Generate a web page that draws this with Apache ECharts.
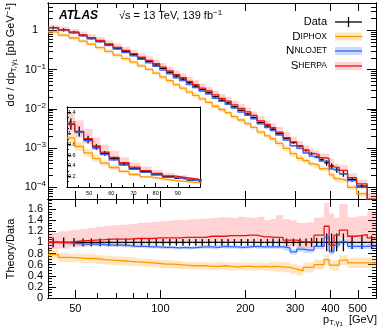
<!DOCTYPE html>
<html>
<head>
<meta charset="utf-8">
<script src="https://cdn.jsdelivr.net/npm/echarts@6/dist/echarts.min.js"></script>
<style>
html, body { margin: 0; padding: 0; background: #fff; }
#chart { width: 390px; height: 331px; }
</style>
</head>
<body>
<div id="chart"></div>
<script>
let chart = echarts.init(document.getElementById('chart'), null, {renderer: 'canvas'});

// bin edges of p_T,gamma1 [GeV]
let edges = [40, 43.5, 47.5, 51.5, 55, 59, 63.5, 68, 73, 78, 83, 88.5, 94, 99.5, 105, 111, 117, 123.5, 130, 137,
    144.5, 152.5, 161, 169.5, 178, 188, 199, 209, 220, 234, 245, 256, 272, 288, 304, 320, 336, 350, 365, 380,
    396, 412, 430, 460, 495, 540, 580];

// measured cross section [pb/GeV] and relative uncertainty
let data_xs = [1.18, 1.04, 0.89, 0.75, 0.63, 0.53, 0.43, 0.35, 0.29, 0.24,
    0.196, 0.162, 0.131, 0.107, 0.086, 0.069, 0.0575, 0.0462, 0.038, 0.031,
    0.0257, 0.0204, 0.0166, 0.0141, 0.0113, 0.0091, 0.0074, 0.0060, 0.00447, 0.00363,
    0.00302, 0.00234, 0.00178, 0.00138, 0.00112, 0.00087, 0.00072, 0.00060, 0.00050, 0.00042,
    0.00035, 0.00028, 0.00022, 0.000158, 0.000107, 0.000046];
let data_err = [0.09, 0.09, 0.08, 0.07, 0.07, 0.07, 0.07, 0.07, 0.07, 0.07,
    0.06, 0.06, 0.06, 0.06, 0.06, 0.06, 0.06, 0.06, 0.06, 0.06,
    0.06, 0.06, 0.06, 0.06, 0.06, 0.06, 0.06, 0.06, 0.06, 0.06,
    0.07, 0.07, 0.07, 0.07, 0.07, 0.07, 0.08, 0.08, 0.08, 0.16,
    0.16, 0.16, 0.16, 0.12, 0.12, 0.12];

// theory / data
let sherpa_ratio = [1.00, 1.00, 1.02, 1.03, 1.04, 1.05, 1.06, 1.06, 1.06, 1.07,
    1.07, 1.07, 1.08, 1.08, 1.08, 1.08, 1.09, 1.09, 1.09, 1.09,
    1.11, 1.11, 1.11, 1.12, 1.12, 1.12, 1.13, 1.13, 1.10, 1.10,
    1.09, 1.09, 1.04, 1.04, 1.01, 1.01, 1.01, 1.13, 1.13, 1.29,
    0.95, 1.13, 1.22, 1.11, 1.14, 1.08];
let sherpa_lo = [0.88, 0.89, 0.91, 0.92, 0.93, 0.94, 0.95, 0.95, 0.95, 0.96,
    0.96, 0.96, 0.97, 0.97, 0.97, 0.97, 0.98, 0.98, 0.98, 0.98,
    0.99, 0.99, 0.99, 1.00, 1.00, 1.00, 1.01, 1.01, 0.98, 0.98,
    0.97, 0.97, 0.93, 0.93, 0.90, 0.90, 0.90, 1.00, 1.00, 1.14,
    0.84, 1.00, 1.07, 0.98, 1.01, 0.95];
let sherpa_hi = [1.17, 1.20, 1.22, 1.24, 1.26, 1.28, 1.30, 1.31, 1.32, 1.33,
    1.35, 1.36, 1.37, 1.38, 1.39, 1.40, 1.40, 1.41, 1.42, 1.42,
    1.43, 1.44, 1.45, 1.45, 1.44, 1.46, 1.45, 1.44, 1.46, 1.40,
    1.42, 1.49, 1.42, 1.40, 1.35, 1.35, 1.36, 1.44, 1.45, 1.71,
    1.52, 1.44, 1.69, 1.45, 1.47, 1.56];
let nnlojet_ratio = [1.00, 0.99, 0.98, 0.97, 0.97, 0.96, 0.95, 0.95, 0.94, 0.93,
    0.93, 0.92, 0.92, 0.91, 0.91, 0.90, 0.91, 0.90, 0.91, 0.92,
    0.92, 0.91, 0.93, 0.92, 0.92, 0.91, 0.92, 0.93, 0.92, 0.92,
    0.92, 0.92, 0.90, 0.83, 0.88, 0.86, 0.86, 0.93, 0.93, 1.10,
    0.83, 0.95, 1.01, 0.93, 0.93, 0.93];
let nnlojet_err = [0.03, 0.03, 0.03, 0.03, 0.03, 0.03, 0.03, 0.03, 0.03, 0.03,
    0.03, 0.03, 0.03, 0.03, 0.03, 0.03, 0.03, 0.03, 0.03, 0.03,
    0.035, 0.035, 0.035, 0.035, 0.035, 0.035, 0.035, 0.035, 0.035, 0.035,
    0.035, 0.035, 0.05, 0.05, 0.05, 0.05, 0.05, 0.05, 0.05, 0.05,
    0.05, 0.05, 0.05, 0.05, 0.05, 0.05];
let diphox_ratio = [0.78, 0.73, 0.72, 0.71, 0.71, 0.69, 0.68, 0.67, 0.66, 0.65,
    0.64, 0.63, 0.62, 0.61, 0.61, 0.60, 0.59, 0.58, 0.58, 0.58,
    0.57, 0.57, 0.58, 0.57, 0.56, 0.57, 0.57, 0.56, 0.57, 0.56,
    0.57, 0.56, 0.55, 0.52, 0.49, 0.55, 0.55, 0.60, 0.60, 0.69,
    0.59, 0.59, 0.68, 0.63, 0.63, 0.63];
let diphox_err = [0.08, 0.08, 0.08, 0.08, 0.08, 0.08, 0.08, 0.08, 0.08, 0.08,
    0.07, 0.07, 0.07, 0.07, 0.07, 0.07, 0.07, 0.07, 0.07, 0.07,
    0.07, 0.07, 0.07, 0.07, 0.07, 0.07, 0.07, 0.07, 0.07, 0.07,
    0.09, 0.09, 0.09, 0.09, 0.09, 0.09, 0.09, 0.09, 0.09, 0.09,
    0.09, 0.09, 0.09, 0.09, 0.09, 0.09];

// ticks
let x_major = [50, 100, 200, 300, 400, 500];
let x_minor = [60, 70, 80, 90];
let y_main_major = [-4, -3, -2, -1, 0];
let ratio_major = [0, 0.2, 0.4, 0.6, 0.8, 1, 1.2, 1.4, 1.6];
let inset_x_major = [50, 60, 70, 80, 90];
let inset_y_major = [0.2, 0.4, 0.6, 0.8, 1, 1.2, 1.4];

let FONT = '"Liberation Sans", Arial, sans-serif';
let L = Math.log10;
let lin = v => v;
let nb = data_xs.length;
let n_inset = 14;

let c_diphox = '#ff9900', b_diphox = 'rgba(255,165,40,0.28)';
let c_nnlo = '#3366ff', b_nnlo = 'rgba(60,110,255,0.25)';
let c_sherpa = '#e8150c', b_sherpa = 'rgba(255,70,70,0.24)';

let y_main_minor = [];
for (let p = -5; p <= 0; p++) {
    for (let k = 2; k <= 9; k++) {
        let v = p + L(k);
        if (v > -4.3 && v < 0.7) y_main_minor.push(v);
    }
}
let ratio_minor = [];
for (let i = 1; i < 36; i++) if (i % 4 !== 0) ratio_minor.push(i * 0.05);
let inset_y_minor = [];
for (let i = 1; i < 15; i++) if (i % 2 === 1) inset_y_minor.push(i * 0.1);
let inset_x_minor = [45, 55, 65, 75, 85, 95];

function axis(o) {
    let a = {
        type: 'value', gridIndex: o.grid, position: o.pos, min: o.min, max: o.max,
        splitLine: {show: false},
        axisLine: {show: true, onZero: false, lineStyle: {color: '#000', width: 1}},
        axisTick: {show: !!o.ticks, inside: true, length: o.len || 5, customValues: o.ticks || [],
            lineStyle: {color: '#000', width: 1}},
        axisLabel: {show: false}
    };
    if (o.labels) {
        a.axisLabel = {show: true, customValues: o.labels, formatter: o.fmt, color: '#000', fontFamily: FONT,
            fontSize: o.fs || 11, margin: o.margin || 4, rich: o.rich, inside: !!o.inside};
    }
    return a;
}

let xlog_fmt = v => String(Math.round(Math.pow(10, v)));
let xmin = L(40), xmax = L(580);

let x_axes = [
    // main
    axis({grid: 0, pos: 'bottom', min: xmin, max: xmax, ticks: x_major.map(L), len: 8}),
    axis({grid: 0, pos: 'bottom', min: xmin, max: xmax, ticks: x_minor.map(L), len: 5}),
    axis({grid: 0, pos: 'top', min: xmin, max: xmax, ticks: x_major.map(L), len: 8}),
    axis({grid: 0, pos: 'top', min: xmin, max: xmax, ticks: x_minor.map(L), len: 5}),
    // ratio
    axis({grid: 1, pos: 'bottom', min: xmin, max: xmax, ticks: x_major.map(L), len: 8,
        labels: x_major.map(L), fmt: xlog_fmt, margin: 5}),
    axis({grid: 1, pos: 'bottom', min: xmin, max: xmax, ticks: x_minor.map(L), len: 5}),
    axis({grid: 1, pos: 'top', min: xmin, max: xmax, ticks: x_major.map(L), len: 8}),
    axis({grid: 1, pos: 'top', min: xmin, max: xmax, ticks: x_minor.map(L), len: 5}),
    // inset
    axis({grid: 2, pos: 'bottom', min: 40, max: 100, ticks: inset_x_major, len: 4,
        labels: inset_x_major, fmt: v => String(v), fs: 5.5, margin: 3}),
    axis({grid: 2, pos: 'bottom', min: 40, max: 100, ticks: inset_x_minor, len: 2}),
    axis({grid: 2, pos: 'top', min: 40, max: 100})
];

let y_axes = [
    // main
    axis({grid: 0, pos: 'left', min: -4.3, max: 0.7, ticks: y_main_major, len: 9,
        labels: y_main_major, margin: 2,
        fmt: v => {
            let p = Math.round(v);
            return p === 0 ? '{one|1}' : '{b|10}{s|\u2212' + Math.abs(p) + '}';
        },
        rich: {
            one: {fontSize: 11, fontFamily: FONT, padding: [0, 8, 0, 0]},
            b: {fontSize: 11, fontFamily: FONT, lineHeight: 14},
            s: {fontSize: 8, fontFamily: FONT, verticalAlign: 'top', lineHeight: 9}
        }}),
    axis({grid: 0, pos: 'left', min: -4.3, max: 0.7, ticks: y_main_minor, len: 5}),
    axis({grid: 0, pos: 'right', min: -4.3, max: 0.7, ticks: y_main_major, len: 9}),
    axis({grid: 0, pos: 'right', min: -4.3, max: 0.7, ticks: y_main_minor, len: 5}),
    // ratio
    axis({grid: 1, pos: 'left', min: 0, max: 1.78, ticks: ratio_major, len: 8,
        labels: ratio_major, fmt: v => String(Math.round(v * 10) / 10), margin: 5}),
    axis({grid: 1, pos: 'left', min: 0, max: 1.78, ticks: ratio_minor, len: 4}),
    axis({grid: 1, pos: 'right', min: 0, max: 1.78, ticks: ratio_major, len: 8}),
    axis({grid: 1, pos: 'right', min: 0, max: 1.78, ticks: ratio_minor, len: 4}),
    // inset
    axis({grid: 2, pos: 'left', min: 0, max: 1.5, ticks: inset_y_major, len: 4,
        labels: inset_y_major, fmt: v => String(Math.round(v * 10) / 10), fs: 5.5, margin: 1, inside: true}),
    axis({grid: 2, pos: 'left', min: 0, max: 1.5, ticks: inset_y_minor, len: 2}),
    axis({grid: 2, pos: 'right', min: 0, max: 1.5})
];

let panels = [
    {xi: 0, yi: 0, fx: L, fy: L, ratio: false, n: nb},
    {xi: 4, yi: 4, fx: L, fy: lin, ratio: true, n: nb},
    {xi: 8, yi: 8, fx: lin, fy: lin, ratio: false, n: n_inset}
];

function scale(panel, r, i) {
    return panel.ratio ? r : r * data_xs[i];
}

function band_series(panel, lo, hi, color) {
    let d = [];
    for (let i = 0; i < panel.n; i++) {
        d.push([panel.fx(edges[i]), panel.fx(edges[i + 1]),
            panel.fy(scale(panel, lo[i], i)), panel.fy(scale(panel, hi[i], i))]);
    }
    return {
        type: 'custom', xAxisIndex: panel.xi, yAxisIndex: panel.yi, clip: true, silent: true,
        encode: {x: [0, 1], y: [2, 3]}, data: d,
        renderItem: function (params, api) {
            let p0 = api.coord([api.value(0), api.value(3)]);
            let p1 = api.coord([api.value(1), api.value(2)]);
            return {type: 'rect', shape: {x: p0[0], y: p0[1], width: p1[0] - p0[0], height: p1[1] - p0[1]},
                style: {fill: color}};
        }
    };
}

function line_series(panel, r, color) {
    let pts = [];
    for (let i = 0; i < panel.n; i++) pts.push([panel.fx(edges[i]), panel.fy(scale(panel, r[i], i))]);
    pts.push([panel.fx(edges[panel.n]), panel.fy(scale(panel, r[panel.n - 1], panel.n - 1))]);
    return {
        type: 'line', xAxisIndex: panel.xi, yAxisIndex: panel.yi, step: 'end', data: pts,
        symbol: 'none', silent: true, clip: true, lineStyle: {color: color, width: 1.3}
    };
}

function data_series(panel) {
    let d = [];
    for (let i = 0; i < panel.n; i++) {
        let v = panel.ratio ? 1 : data_xs[i];
        let x0 = panel.fx(edges[i]), x1 = panel.fx(edges[i + 1]);
        d.push([x0, x1, (x0 + x1) / 2, panel.fy(v), panel.fy(v * (1 - data_err[i])), panel.fy(v * (1 + data_err[i]))]);
    }
    return {
        type: 'custom', xAxisIndex: panel.xi, yAxisIndex: panel.yi, clip: true, silent: true,
        encode: {x: [0, 1], y: [3]}, data: d,
        renderItem: function (params, api) {
            let a = api.coord([api.value(0), api.value(3)]);
            let b = api.coord([api.value(1), api.value(3)]);
            let lo = api.coord([api.value(2), api.value(4)]);
            let hi = api.coord([api.value(2), api.value(5)]);
            let st = {stroke: '#000', lineWidth: 1.3};
            return {type: 'group', children: [
                {type: 'line', shape: {x1: a[0], y1: a[1], x2: b[0], y2: b[1]}, style: st},
                {type: 'line', shape: {x1: lo[0], y1: lo[1], x2: hi[0], y2: hi[1]}, style: st}
            ]};
        }
    };
}

let series = [];
panels.forEach(p => {
    let n_lo = nnlojet_ratio.map((v, i) => v - nnlojet_err[i]);
    let n_hi = nnlojet_ratio.map((v, i) => v + nnlojet_err[i]);
    let d_lo = diphox_ratio.map((v, i) => v - diphox_err[i]);
    let d_hi = diphox_ratio.map((v, i) => v + diphox_err[i]);
    series.push(band_series(p, d_lo, d_hi, b_diphox));
    series.push(band_series(p, n_lo, n_hi, b_nnlo));
    series.push(band_series(p, sherpa_lo, sherpa_hi, b_sherpa));
    series.push(line_series(p, diphox_ratio, c_diphox));
    series.push(line_series(p, nnlojet_ratio, c_nnlo));
    series.push(line_series(p, sherpa_ratio, c_sherpa));
    series.push(data_series(p));
});

// legend and labels
let legend_names = ['Data', '{c|D}{s|IPHOX}', '{c|N}{s|NLOJET}', '{c|S}{s|HERPA}'];
let legend_lines = ['#000', c_diphox, c_nnlo, c_sherpa];
let legend_bands = [null, b_diphox, b_nnlo, b_sherpa];
let legend_y = [22, 36.5, 51, 66];

let txt_rich = {
    c: {fontSize: 11.5, fontFamily: FONT},
    s: {fontSize: 8.5, fontFamily: FONT},
    sub: {fontSize: 8, fontFamily: FONT, verticalAlign: 'bottom', lineHeight: 9},
    sub2: {fontSize: 6, fontFamily: FONT, verticalAlign: 'bottom', lineHeight: 7},
    sup: {fontSize: 8, fontFamily: FONT, verticalAlign: 'top', lineHeight: 9}
};

let graphic = [
    {type: 'text', x: 59, y: 16, style: {text: 'ATLAS', fontFamily: FONT, fontSize: 12, fontStyle: 'italic',
        fontWeight: 'bold', fill: '#000', verticalAlign: 'middle'}},
    {type: 'text', x: 119, y: 16, style: {text: '\u221As = 13 TeV, 139 fb{sup|\u22121}', rich: txt_rich,
        fontFamily: FONT, fontSize: 11, lineHeight: 14, fill: '#000', verticalAlign: 'middle'}},
    {type: 'text', x: 11, y: 3, rotation: Math.PI / 2, style: {
        text: 'd\u03C3 / dp{sub|T,\u03B3}{sub2|1} [pb GeV{sup|\u22121}]', rich: txt_rich,
        fontFamily: FONT, fontSize: 11, lineHeight: 14, fill: '#000', align: 'right', verticalAlign: 'middle'}},
    {type: 'text', x: 11, y: 249, rotation: Math.PI / 2, style: {text: 'Theory/Data',
        fontFamily: FONT, fontSize: 11, fill: '#000', align: 'center', verticalAlign: 'middle'}},
    {type: 'text', x: 377, y: 320, style: {text: 'p{sub|T,\u03B3}{sub2|1}  [GeV]', rich: txt_rich,
        fontFamily: FONT, fontSize: 11, lineHeight: 14, fill: '#000', align: 'right', verticalAlign: 'middle'}}
];
for (let i = 0; i < legend_names.length; i++) {
    let y = legend_y[i];
    graphic.push({type: 'text', x: 327, y: y, style: {text: legend_names[i], rich: txt_rich,
        fontFamily: FONT, fontSize: 11, fill: '#000', align: 'right', verticalAlign: 'middle'}});
    if (legend_bands[i]) {
        graphic.push({type: 'rect', shape: {x: 335, y: y - 4, width: 27, height: 8}, style: {fill: legend_bands[i]}});
    } else {
        graphic.push({type: 'line', shape: {x1: 348.5, y1: y - 5, x2: 348.5, y2: y + 5},
            style: {stroke: '#000', lineWidth: 1.3}});
    }
    graphic.push({type: 'line', shape: {x1: 335, y1: y, x2: 362, y2: y},
        style: {stroke: legend_lines[i], lineWidth: 1.3}});
}

chart.setOption({
    animation: false,
    backgroundColor: '#fff',
    grid: [
        {left: 48, top: 3, width: 328, height: 196, outerBoundsMode: 'none'},
        {left: 48, top: 199, width: 328, height: 99, outerBoundsMode: 'none'},
        {left: 67, top: 107, width: 133, height: 80, outerBoundsMode: 'none'}
    ],
    xAxis: x_axes,
    yAxis: y_axes,
    series: series,
    graphic: graphic
});
</script>
</body>
</html>
